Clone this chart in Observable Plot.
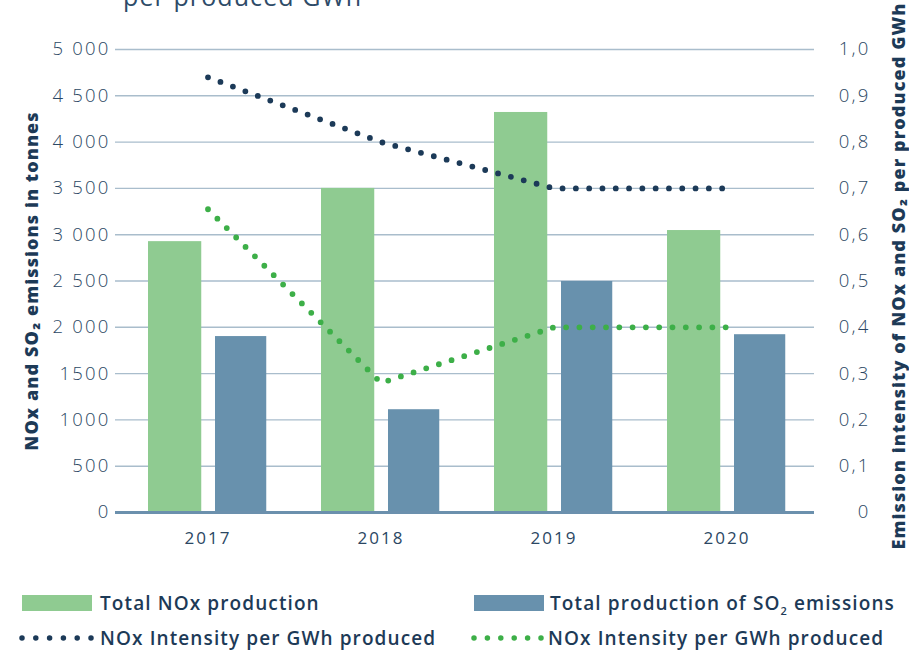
<!DOCTYPE html>
<html>
<head>
<meta charset="utf-8">
<script src="https://cdn.jsdelivr.net/npm/d3@7"></script>
<script src="https://cdn.jsdelivr.net/npm/@observablehq/plot@0.6"></script>
<style>
  html, body { margin: 0; padding: 0; background: #fff; overflow: hidden; }
  #wrap { position: relative; width: 909px; height: 654px; font-family: "Open Sans", Lato, sans-serif; color: #1d3a57; }
  #title { position: absolute; left: 123px; top: -16px; font-size: 25px; line-height: 25px; letter-spacing: 1.1px; color: #2e4b68; font-weight: 400; white-space: nowrap; }
  #chart { position: absolute; left: 0; top: 0; }
  .leg { position: absolute; font-size: 19px; font-weight: 600; letter-spacing: 1.1px; line-height: 20px; white-space: nowrap; color: #1d3a57; }
  .sw { position: absolute; width: 70px; height: 16px; }
  .leg sub { font-size: 11px; line-height: 0; }
  svg.dots { position: absolute; }
  #chart g[aria-label="y-axis tick label"] text { letter-spacing: 2.2px; }
  #chart g[aria-label="x-axis tick label"] text { letter-spacing: 2px; }
  #chart g[aria-label="text"] text { letter-spacing: 1.1px; }
</style>
</head>
<body>
<div id="wrap">
  <div id="title">per produced GWh</div>
  <div id="chart"></div>
  <div class="sw" style="left:22px; top:595px; background:#8fcb91"></div>
  <div class="leg" style="left:100px; top:593px">Total NOx production</div>
  <div class="sw" style="left:474px; top:595px; background:#6891ad"></div>
  <div class="leg" style="left:550px; top:593px">Total production of SO<sub>2</sub> emissions</div>
  <svg class="dots" style="left:18px; top:632px" width="80" height="12"><line x1="4" y1="6" x2="74" y2="6" stroke="#1c3a58" stroke-width="5.5" stroke-linecap="round" stroke-dasharray="0 13.8"/></svg>
  <div class="leg" style="left:100px; top:628px">NOx Intensity per GWh produced</div>
  <svg class="dots" style="left:470px; top:632px" width="80" height="12"><line x1="4" y1="6" x2="72" y2="6" stroke="#3daf48" stroke-width="5.5" stroke-linecap="round" stroke-dasharray="0 13.4"/></svg>
  <div class="leg" style="left:548px; top:628px">NOx Intensity per GWh produced</div>
</div>
<script>
const years = ["2017", "2018", "2019", "2020"];
const noxTonnes = [2925, 3500, 4320, 3045];
const so2Tonnes = [1900, 1110, 2495, 1920];
const noxIntensity = [0.94, 0.80, 0.70, 0.70];
const so2Intensity = [0.655, 0.28, 0.40, 0.40];
const leftTicks = [0, 500, 1000, 1500, 2000, 2500, 3000, 3500, 4000, 4500, 5000];
const leftLabels = ["0", "500", "1000", "1500", "2 000", "2 500", "3 000", "3 500", "4 000", "4 500", "5 000"];
const rightTicks = [0, 0.1, 0.2, 0.3, 0.4, 0.5, 0.6, 0.7, 0.8, 0.9, 1.0];
const rightLabels = ["0", "0,1", "0,2", "0,3", "0,4", "0,5", "0,6", "0,7", "0,8", "0,9", "1,0"];
const leftTitle = "NOx and SO\u2082 emissions in tonnes";
const rightTitle = "Emission intensity of NOx and SO\u2082 per produced GWh";

const yMax = 5000, rMax = 1.0;
const k = yMax / rMax;

const bars = years.map((y, i) => ({year: y, nox: noxTonnes[i], so2: so2Tonnes[i]}));
const lineNavy = years.map((y, i) => ({year: y, v: noxIntensity[i] * k}));
const lineGreen = years.map((y, i) => ({year: y, v: so2Intensity[i] * k}));

const textColor = "#2b4763";
const font = "'Open Sans', Lato, sans-serif";

const chart = Plot.plot({
  width: 909,
  height: 560,
  marginTop: 49,
  marginBottom: 48,
  marginLeft: 115,
  marginRight: 95,
  style: {fontFamily: font, color: textColor, background: "transparent", overflow: "visible"},
  x: {type: "band", domain: years, range: [119, 814], padding: 0, label: null},
  y: {domain: [0, yMax], label: null},
  marks: [
    Plot.gridY(leftTicks.filter(d => d > 0), {stroke: "#a9bdcc", strokeOpacity: 1, strokeWidth: 1.4}),
    Plot.barY(bars, {x: "year", y: "nox", fill: "#8fcb91", insetLeft: 27, insetRight: 92.75}),
    Plot.barY(bars, {x: "year", y: "so2", fill: "#6891ad", insetLeft: 94, insetRight: 27.75}),
    Plot.ruleY([0], {stroke: "#6b90ad", strokeWidth: 3}),
    Plot.lineY(lineNavy, {x: "year", y: "v", stroke: "#1c3a58", strokeWidth: 5.8, strokeLinecap: "round", strokeDasharray: "0 13.3"}),
    Plot.lineY(lineGreen, {x: "year", y: "v", stroke: "#3daf48", strokeWidth: 5.8, strokeLinecap: "round", strokeDasharray: "0 13.3"}),
    Plot.axisY({ticks: leftTicks, tickSize: 0, tickPadding: 5, tickFormat: d => leftLabels[leftTicks.indexOf(d)], fontSize: 18.5, fontWeight: 300, fill: textColor, label: null}),
    Plot.axisY({ticks: rightTicks.map(v => v * k), anchor: "right", tickSize: 0, tickPadding: 56, textAnchor: "end", tickFormat: d => rightLabels[Math.round(d / k * 10)], fontSize: 18.5, fontWeight: 300, fill: textColor, label: null}),
    Plot.axisX({tickSize: 0, tickPadding: 19, fontSize: 17, fontWeight: 400, fill: textColor, label: null}),
    Plot.text([leftTitle], {frameAnchor: "left", textAnchor: "middle", dx: -83, rotate: -90, fontSize: 18, fontWeight: 800, fill: "#1d3a57"}),
    Plot.text([rightTitle], {frameAnchor: "right", textAnchor: "middle", dx: 85, dy: -5, rotate: -90, fontSize: 18, fontWeight: 800, fill: "#1d3a57"})
  ]
});
document.getElementById("chart").appendChild(chart);
</script>
</body>
</html>
